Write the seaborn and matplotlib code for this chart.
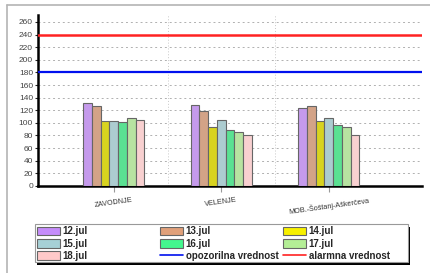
import matplotlib
matplotlib.use("Agg")
import matplotlib.pyplot as plt
import seaborn as sns
import pandas as pd
from matplotlib.patches import Patch, Rectangle
from matplotlib.lines import Line2D

sites = ["ZAVODNJE", "VELENJE", "MOB.-Šoštanj-Aškerčeva"]
days = ["12.jul", "13.jul", "14.jul", "15.jul", "16.jul", "17.jul", "18.jul"]
v_12 = [131, 128, 124]
v_13 = [127, 119, 127]
v_14 = [103, 94, 103]
v_15 = [103, 104, 107]
v_16 = [102, 89, 97]
v_17 = [107, 86, 94]
v_18 = [104, 80, 80]
warn_value = 180
alarm_value = 240
colors = ["#C58CFA", "#E0A07A", "#F7F000", "#A6D0D6", "#44F78E", "#B4EE96", "#FFC9C9"]

series = [v_12, v_13, v_14, v_15, v_16, v_17, v_18]
rows = []
for day, vals in zip(days, series):
    for site, v in zip(sites, vals):
        rows.append({"site": site, "day": day, "value": v})
df = pd.DataFrame(rows)

sns.set_style("white")
plt.rcParams["font.family"] = ["Liberation Sans", "DejaVu Sans"]

W, H = 430, 273
fig = plt.figure(figsize=(4.3, 2.73), dpi=100)
ax = fig.add_axes([0.088, 0.319, 0.893, 0.626])

sns.barplot(data=df, x="site", y="value", hue="day", order=sites, hue_order=days,
            palette=colors, width=0.57, edgecolor="#666666", linewidth=0.8,
            ax=ax, legend=False, zorder=3)

ax.axhline(warn_value, color="#0010EE", lw=1.6, zorder=4)
ax.axhline(alarm_value, color="#FF2222", lw=1.8, zorder=4)

ax.set_ylim(0, 271)
ax.set_xlim(-0.707, 2.865)
ax.set_yticks(range(0, 261, 20))
ax.set_xticks([0.5, 1.5], minor=True)
ax.grid(axis="y", color="#b0b0b0", ls=(0, (2, 3)), lw=0.7, zorder=0)
ax.grid(axis="x", which="minor", color="#c8c8c8", ls=(0, (1, 2)), lw=0.7, zorder=0)
ax.set_xlabel("")
ax.set_ylabel("")
for s in ["top", "right"]:
    ax.spines[s].set_visible(False)
for s in ["left", "bottom"]:
    ax.spines[s].set_linewidth(1.8)
    ax.spines[s].set_color("black")
ax.tick_params(axis="y", labelsize=6, labelcolor="#444444", length=2, pad=1.5, left=True)
ax.tick_params(axis="x", labelsize=5.2, labelcolor="#333333", length=4, color="#999999",
               pad=3.5, bottom=True)
ax.tick_params(axis="x", which="minor", length=0)
for lab in ax.get_xticklabels():
    lab.set_rotation(8)

# outer frame
fig.add_artist(Line2D([7 / W, 7 / W], [0, 1 - 5 / H], color="#b4b4b4", lw=1.2))
fig.add_artist(Line2D([7 / W, 1], [1 - 5 / H, 1 - 5 / H], color="#b4b4b4", lw=1.2))

# legend box with black shadow
x0, x1, y0, y1 = 35, 408, 224, 262
fig.add_artist(Rectangle((x0 / W + 2 / W, 1 - (y1 + 3) / H), (x1 - x0) / W, (y1 - y0) / H,
                         transform=fig.transFigure, facecolor="black", edgecolor="none"))
fig.add_artist(Rectangle((x0 / W, 1 - y1 / H), (x1 - x0) / W, (y1 - y0) / H,
                         transform=fig.transFigure, facecolor="white", edgecolor="#999999", lw=0.8))

patches = [Patch(facecolor=c, edgecolor="#666666", lw=0.8) for c in colors]
warn_h = Line2D([], [], color="#0010EE", lw=1.2)
alarm_h = Line2D([], [], color="#FF2222", lw=1.2)
groups = [
    ([patches[0], patches[3], patches[6]], [days[0], days[3], days[6]], 36),
    ([patches[1], patches[4], warn_h], [days[1], days[4], "opozorilna vrednost"], 159),
    ([patches[2], patches[5], alarm_h], [days[2], days[5], "alarmna vrednost"], 282),
]
for hs, ls, xl in groups:
    fig.legend(hs, ls, loc="upper left", bbox_to_anchor=(xl / W, 1 - (y0 + 1) / H),
               prop={"weight": "bold", "size": 7}, frameon=False,
               borderpad=0.15, labelspacing=0.22, handlelength=2.3, handleheight=1.0,
               handletextpad=0.3, borderaxespad=0)

plt.savefig("out.png", dpi=100)
